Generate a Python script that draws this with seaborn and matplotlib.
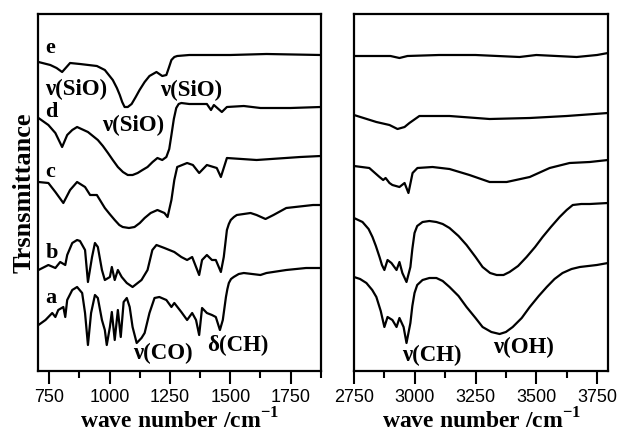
import numpy as np
import pandas as pd
import matplotlib
matplotlib.use('Agg')
import matplotlib.pyplot as plt
from matplotlib.ticker import MultipleLocator
import seaborn as sns

# ------ Data (transmittance in arbitrary, stacked units) ------
# left panel: 700-1875 cm-1
wn_a_left = [705, 734, 762, 775, 787, 808, 816, 824, 845, 865, 886, 898, 910, 923, 939, 951, 968, 980, 988,
             1001, 1009, 1021, 1034, 1046, 1058, 1071, 1083, 1095, 1112, 1132, 1145, 1165, 1186, 1206, 1235,
             1256, 1268, 1297, 1321, 1342, 1358, 1371, 1383, 1403, 1424, 1440, 1457, 1469, 1482, 1488, 1494,
             1503, 1514, 1535, 1556, 1625, 1650, 1732, 1814, 1875]
t_a_left = [0.46, 0.51, 0.58, 0.54, 0.61, 0.64, 0.54, 0.71, 0.81, 0.84, 0.78, 0.58, 0.26, 0.58, 0.76, 0.73, 0.51,
            0.41, 0.26, 0.44, 0.59, 0.31, 0.61, 0.34, 0.69, 0.73, 0.64, 0.44, 0.28, 0.33, 0.38, 0.58, 0.73,
            0.74, 0.71, 0.64, 0.68, 0.59, 0.51, 0.58, 0.51, 0.36, 0.63, 0.58, 0.56, 0.54, 0.41, 0.51, 0.74,
            0.82, 0.88, 0.92, 0.94, 0.97, 0.98, 0.96, 0.98, 1.01, 1.03, 1.03]

wn_b_left = [705, 746, 775, 795, 816, 824, 845, 865, 877, 898, 910, 927, 939, 951, 968, 980, 1001, 1009, 1021,
             1034, 1050, 1071, 1095, 1132, 1157, 1177, 1194, 1227, 1268, 1297, 1321, 1342, 1371, 1383, 1403,
             1424, 1440, 1461, 1473, 1486, 1494, 1502, 1515, 1527, 1584, 1609, 1646, 1679, 1732, 1843, 1875]
t_b_left = [1.01, 1.06, 1.03, 1.09, 1.06, 1.16, 1.28, 1.31, 1.30, 1.21, 0.89, 1.14, 1.28, 1.24, 1.01, 0.91,
            0.94, 1.04, 0.91, 1.01, 0.94, 0.88, 0.84, 0.91, 1.01, 1.21, 1.26, 1.23, 1.19, 1.14, 1.11, 1.14,
            0.96, 1.11, 1.16, 1.11, 1.11, 0.99, 1.14, 1.41, 1.47, 1.51, 1.54, 1.56, 1.58, 1.56, 1.52, 1.56,
            1.63, 1.66, 1.66]

wn_c_left = [705, 746, 775, 808, 836, 865, 898, 919, 947, 980, 1000, 1021, 1040, 1054, 1080, 1103, 1125, 1145,
             1170, 1198, 1227, 1240, 1256, 1268, 1280, 1321, 1345, 1371, 1403, 1444, 1461, 1486, 1609, 1790, 1875]
t_c_left = [1.89, 1.88, 1.79, 1.68, 1.81, 1.89, 1.84, 1.76, 1.76, 1.63, 1.57, 1.51, 1.46, 1.44, 1.43, 1.44,
            1.48, 1.53, 1.58, 1.61, 1.58, 1.54, 1.71, 1.91, 2.04, 2.08, 2.06, 1.98, 2.06, 2.03, 1.94, 2.13,
            2.11, 2.14, 2.15]

wn_d_left = [705, 746, 775, 803, 824, 845, 865, 910, 951, 972, 993, 1013, 1034, 1055, 1075, 1095, 1116, 1136,
             1157, 1178, 1198, 1218, 1235, 1247, 1256, 1266, 1276, 1286, 1297, 1330, 1371, 1403, 1420, 1432,
             1465, 1486, 1556, 1625, 1750, 1875]
t_d_left = [2.53, 2.46, 2.38, 2.24, 2.36, 2.41, 2.44, 2.39, 2.31, 2.25, 2.18, 2.11, 2.04, 1.99, 1.96, 1.96,
            1.98, 2.01, 2.04, 2.09, 2.13, 2.11, 2.14, 2.22, 2.36, 2.52, 2.63, 2.67, 2.68, 2.67, 2.67, 2.67,
            2.61, 2.66, 2.59, 2.64, 2.65, 2.63, 2.63, 2.64]

wn_e_left = [705, 754, 780, 803, 836, 877, 947, 980, 1013, 1030, 1042, 1052, 1062, 1075, 1091, 1108, 1124,
             1145, 1165, 1194, 1218, 1235, 1245, 1256, 1268, 1280, 1330, 1500, 1650, 1875]
t_e_left = [3.09, 3.06, 3.03, 2.99, 3.08, 3.07, 3.05, 3.01, 2.91, 2.83, 2.76, 2.69, 2.64, 2.64, 2.67, 2.74,
            2.81, 2.89, 2.95, 2.99, 2.95, 2.96, 3.03, 3.11, 3.14, 3.15, 3.16, 3.16, 3.17, 3.16]

# right panel: 2750-3800 cm-1
wn_a_right = [2750, 2775, 2801, 2825, 2842, 2860, 2875, 2888, 2908, 2925, 2937, 2954, 2966, 2982, 2990, 2999,
              3010, 3032, 3060, 3089, 3115, 3143, 3180, 3213, 3250, 3279, 3315, 3349, 3375, 3403, 3440, 3473,
              3510, 3543, 3575, 3608, 3645, 3679, 3749, 3795]
t_a_right = [0.94, 0.92, 0.88, 0.81, 0.74, 0.60, 0.44, 0.54, 0.51, 0.44, 0.53, 0.44, 0.28, 0.48, 0.65, 0.78,
             0.86, 0.91, 0.93, 0.93, 0.90, 0.84, 0.75, 0.64, 0.53, 0.44, 0.39, 0.37, 0.39, 0.44, 0.53, 0.64,
             0.75, 0.84, 0.92, 0.98, 1.02, 1.04, 1.06, 1.08]

wn_b_right = [2750, 2785, 2810, 2826, 2840, 2855, 2865, 2875, 2888, 2904, 2925, 2937, 2949, 2966, 2982, 2990,
              2999, 3010, 3032, 3060, 3089, 3115, 3143, 3180, 3213, 3250, 3279, 3310, 3337, 3365, 3390, 3425,
              3460, 3495, 3526, 3560, 3596, 3625, 3650, 3685, 3720, 3795]
t_b_right = [1.53, 1.49, 1.42, 1.34, 1.25, 1.14, 1.06, 1.01, 1.11, 1.08, 1.01, 1.09, 0.98, 0.89, 1.04, 1.22,
             1.38, 1.45, 1.49, 1.50, 1.49, 1.47, 1.43, 1.35, 1.26, 1.14, 1.04, 0.98, 0.96, 0.96, 0.99, 1.05,
             1.14, 1.24, 1.34, 1.44, 1.54, 1.61, 1.66, 1.67, 1.67, 1.68]

wn_c_right = [2750, 2813, 2855, 2870, 2880, 2896, 2908, 2937, 2958, 2974, 2991, 3011, 3073, 3143, 3225, 3308,
              3378, 3473, 3555, 3637, 3720, 3795]
t_c_right = [2.05, 2.03, 1.94, 1.91, 1.93, 1.88, 1.86, 1.84, 1.88, 1.78, 1.98, 2.03, 2.04, 2.02, 1.96, 1.89,
             1.89, 1.94, 2.03, 2.08, 2.09, 2.11]

wn_d_right = [2750, 2842, 2896, 2929, 2958, 2978, 3019, 3143, 3308, 3473, 3625, 3795]
t_d_right = [2.56, 2.49, 2.46, 2.42, 2.44, 2.48, 2.55, 2.55, 2.52, 2.53, 2.55, 2.58]

wn_e_right = [2750, 2900, 2937, 2970, 3100, 3250, 3431, 3500, 3666, 3750, 3795]
t_e_right = [3.15, 3.15, 3.13, 3.15, 3.16, 3.16, 3.14, 3.16, 3.14, 3.16, 3.18]

samples = ['a', 'b', 'c', 'd', 'e']
left_x = [wn_a_left, wn_b_left, wn_c_left, wn_d_left, wn_e_left]
left_y = [t_a_left, t_b_left, t_c_left, t_d_left, t_e_left]
right_x = [wn_a_right, wn_b_right, wn_c_right, wn_d_right, wn_e_right]
right_y = [t_a_right, t_b_right, t_c_right, t_d_right, t_e_right]

# build long tables
def to_frame(xs, ys):
    rows = []
    for s, x, y in zip(samples, xs, ys):
        rows.append(pd.DataFrame({'wavenumber': x, 'T': y, 'sample': s}))
    return pd.concat(rows, ignore_index=True)

df_left = to_frame(left_x, left_y)
df_right = to_frame(right_x, right_y)

# ------ Style ------
sns.set_style('ticks')
plt.rcParams['font.family'] = ['Liberation Serif', 'DejaVu Serif']
plt.rcParams['mathtext.fontset'] = 'custom'
plt.rcParams['mathtext.bf'] = 'Liberation Serif:bold'
plt.rcParams['mathtext.rm'] = 'Liberation Serif:bold'
plt.rcParams['lines.solid_joinstyle'] = 'round'
plt.rcParams['text.color'] = 'black'
plt.rcParams['axes.labelcolor'] = 'black'
plt.rcParams['xtick.color'] = 'black'

fig = plt.figure(figsize=(6.17, 4.33), dpi=100)
ax1 = fig.add_axes([38 / 617, 1 - 371 / 433, 283 / 617, 357 / 433])
ax2 = fig.add_axes([354 / 617, 1 - 371 / 433, 254 / 617, 357 / 433])

for ax, df in [(ax1, df_left), (ax2, df_right)]:
    sns.lineplot(data=df, x='wavenumber', y='T', units='sample', estimator=None, sort=False,
                 color='black', linewidth=1.6, ax=ax)
    ax.set_ylim(0, 3.57)
    ax.set_yticks([])
    ax.set_ylabel('')
    ax.set_xlabel('wave number /cm$^{-1}$', fontsize=17, fontweight='bold', labelpad=1.5)
    ax.xaxis.set_major_locator(MultipleLocator(250))
    ax.xaxis.set_minor_locator(MultipleLocator(125))
    ax.tick_params(axis='x', which='major', direction='out', length=9, width=1.5, pad=4,
                   labelsize=13, color='black', labelcolor='black')
    ax.tick_params(axis='x', which='minor', direction='out', length=5, width=1.5, color='black')
    for lab in ax.get_xticklabels():
        lab.set_family('Liberation Sans')
    for sp in ax.spines.values():
        sp.set_visible(True)
        sp.set_linewidth(1.6)
        sp.set_color('black')

ax1.set_xlim(703, 1876)
ax2.set_xlim(2750, 3795)

ax1.set_ylabel('Trsnsmittance', fontsize=19, fontweight='bold', labelpad=2)

# curve letters
letter_pos = {'e': 3.23, 'd': 2.59, 'c': 1.99, 'b': 1.18, 'a': 0.73}
for s, yv in letter_pos.items():
    ax1.text(733, yv, s, fontsize=16, fontweight='bold', ha='left', va='center')

# band assignments
bold = dict(fontsize=16.5, fontweight='bold', ha='center', va='center')
ax1.text(861, 2.82, 'ν(SiO)', **bold)
ax1.text(1338, 2.81, 'ν(SiO)', **bold)
ax1.text(1099, 2.46, 'ν(SiO)', **bold)
ax1.text(1219, 0.18, 'ν(CO)', **bold)
ax1.text(1531, 0.26, 'δ(CH)', **bold)
ax2.text(3069, 0.16, 'ν(CH)', **bold)
ax2.text(3448, 0.24, 'ν(OH)', **bold)

fig.savefig('out.png', dpi=100)
